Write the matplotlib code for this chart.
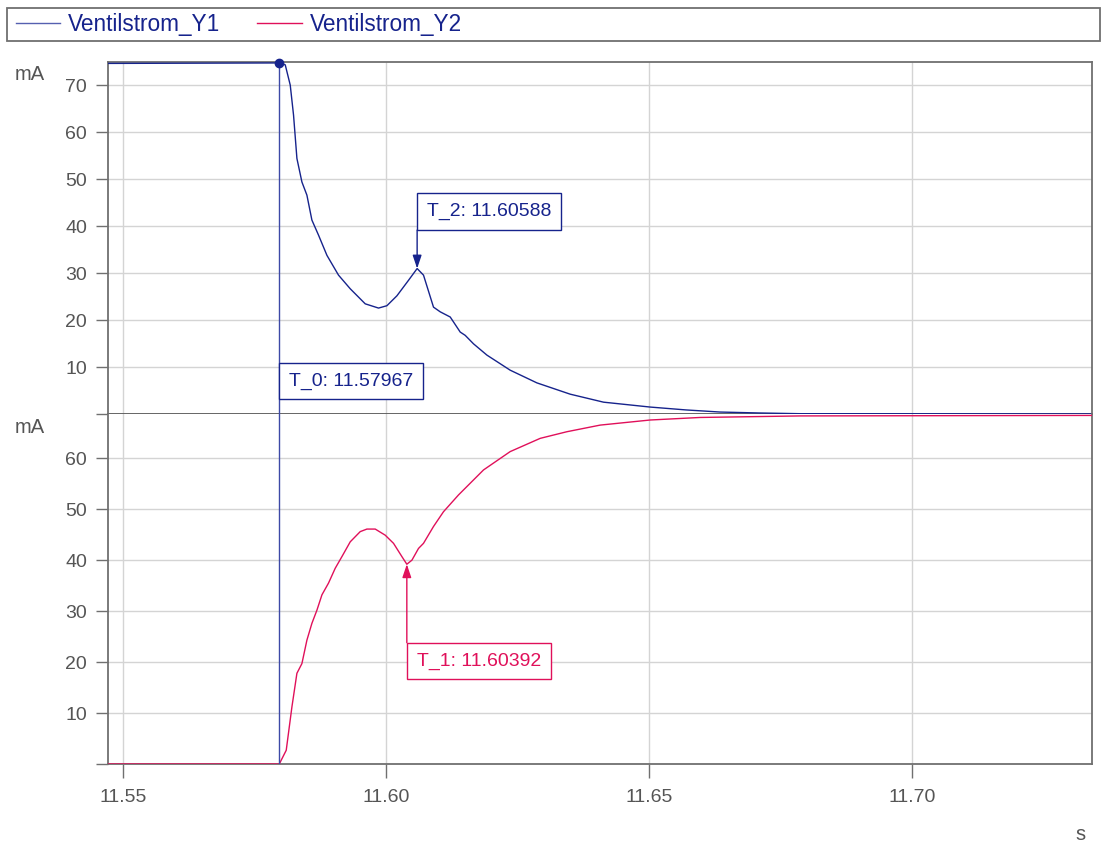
import numpy as np
import matplotlib
matplotlib.use("Agg")
import matplotlib.pyplot as plt

plt.rcParams["font.family"] = ["Liberation Sans", "DejaVu Sans"]

# ── data ───────────────────────────────────────────────────────
T0, T1, T2 = 11.57967, 11.60392, 11.60588

t_y1 = [11.5471, 11.57967, 11.58080, 11.58175, 11.58238, 11.58302, 11.58397,
        11.58492, 11.58587, 11.58713, 11.58873, 11.59093, 11.59316, 11.59601,
        11.59854, 11.60013, 11.60203, 11.60424, 11.60588, 11.60709, 11.60899,
        11.61027, 11.61217, 11.61407, 11.61502, 11.61660, 11.61915, 11.62357,
        11.62865, 11.63498, 11.64132, 11.65019, 11.65700, 11.66350, 11.67100,
        11.67870, 11.7342]
y1 = [74.6, 74.7, 74.3, 70.0, 63.6, 54.4, 49.4, 46.6, 41.3, 38.1, 33.8, 29.6,
      26.7, 23.5, 22.6, 23.1, 25.2, 28.5, 31.0, 29.6, 22.8, 21.8, 20.7, 17.5,
      16.8, 15.0, 12.6, 9.4, 6.7, 4.3, 2.6, 1.56, 0.95, 0.5, 0.3, 0.15, 0.1]

t_y2 = [11.5471, 11.57967, 11.58099, 11.58207, 11.58302, 11.58397, 11.58492,
        11.58587, 11.58683, 11.58778, 11.58903, 11.59030, 11.59158, 11.59316,
        11.59506, 11.59633, 11.59791, 11.59981, 11.60139, 11.60298, 11.60392,
        11.60489, 11.60614, 11.60709, 11.60899, 11.61089, 11.61375, 11.61850,
        11.62357, 11.62928, 11.63435, 11.64068, 11.65019, 11.65970, 11.67871,
        11.7342]
y2 = [0.0, 0.0, 2.7, 11.2, 17.8, 19.7, 24.3, 27.6, 30.2, 33.2, 35.5, 38.4,
      40.7, 43.6, 45.6, 46.1, 46.1, 44.9, 43.3, 40.7, 39.2, 40.0, 42.3, 43.3,
      46.6, 49.5, 52.8, 57.7, 61.3, 63.9, 65.2, 66.5, 67.5, 68.0, 68.3, 68.4]

x_ticks = [11.55, 11.60, 11.65, 11.70]
x_labels = ["11.55", "11.60", "11.65", "11.70"]
top_ticks = [0, 10, 20, 30, 40, 50, 60, 70]
bot_ticks = [0, 10, 20, 30, 40, 50, 60]

BLUE = "#16238c"
RED = "#e0105a"
GRAY = "#707070"
GRID = "#d4d4d4"
TXT = "#555555"
W, H = 1104, 843
PX = 72 / 100  # points per pixel


def style_axis(ax, yticks, ylim):
    ax.set_xlim(11.5471, 11.7342)
    ax.set_ylim(*ylim)
    ax.set_yticks(yticks)
    ax.set_yticklabels([""] + [str(v) for v in yticks[1:]])
    ax.set_xticks(x_ticks)
    ax.grid(True, color=GRID, lw=1.0)
    ax.set_axisbelow(True)
    ax.tick_params(axis="y", length=9, width=1.0, color=GRAY, labelcolor=TXT,
                   labelsize=14, pad=6)
    for s in ax.spines.values():
        s.set_color(GRAY)
        s.set_linewidth(1.3)


fig = plt.figure(figsize=(W / 100, H / 100), dpi=100)
ax1 = fig.add_axes([108 / W, 1 - 414.4 / H, 984 / W, 352.4 / H])
ax2 = fig.add_axes([108 / W, 1 - 764 / H, 984 / W, 349.6 / H])

style_axis(ax1, top_ticks, (0, 74.9))
style_axis(ax2, bot_ticks, (0, 68.6))
ax1.tick_params(axis="x", length=0, labelbottom=False)
ax1.spines["bottom"].set_color("#5a5a5a")
ax2.spines["top"].set_visible(False)
ax2.set_xticklabels(x_labels)
ax2.tick_params(axis="x", length=10, width=1.0, color=GRAY, labelcolor=TXT,
                labelsize=14, pad=8)

# curves
ax1.plot(t_y1, y1, color=BLUE, lw=1.0, zorder=3)
ax2.plot(t_y2, y2, color=RED, lw=1.0, zorder=3)

# cursor T_0
for ax in (ax1, ax2):
    ax.axvline(T0, color="#3d49a6", lw=1.0, zorder=4)
ax1.plot([T0], [y1[1]], "o", color=BLUE, ms=6, zorder=5, clip_on=False)

# cursor labels
PAD = 0.5
pad_px = PAD * 14 / PX
box_kw = dict(boxstyle=f"square,pad={PAD}", fc="white", lw=1.0)
arrow_kw = dict(arrowstyle="-|>,head_length=0.8,head_width=0.27", lw=1.0,
                shrinkA=0, shrinkB=0)

ax1.annotate("T_0: 11.57967", xy=(T0, 0),
             xytext=(pad_px * PX, (15.1 + pad_px) * PX),
             textcoords="offset points", ha="left", va="bottom",
             fontsize=14, color=BLUE, zorder=6, bbox=dict(box_kw, ec=BLUE))

ax1.annotate("T_2: 11.60588", xy=(T2, y1[18]),
             xytext=(pad_px * PX, (38.5 + pad_px) * PX),
             textcoords="offset points", ha="left", va="bottom",
             fontsize=14, color=BLUE, zorder=6, bbox=dict(box_kw, ec=BLUE))
ax1.annotate("", xy=(T2, y1[18]), xytext=(0, 38.5 * PX),
             textcoords="offset points", zorder=6,
             arrowprops=dict(arrow_kw, color=BLUE))

ax2.annotate("T_1: 11.60392", xy=(T1, y2[20]),
             xytext=(pad_px * PX, -(78.5 + pad_px) * PX),
             textcoords="offset points", ha="left", va="top",
             fontsize=14, color=RED, zorder=6, bbox=dict(box_kw, ec=RED))
ax2.annotate("", xy=(T1, y2[20]), xytext=(0, -78.5 * PX),
             textcoords="offset points", zorder=6,
             arrowprops=dict(arrow_kw, color=RED))

# unit labels
fig.text(15 / W, 1 - 74.5 / H, "mA", fontsize=14.5, color=TXT, va="center")
fig.text(15 / W, 1 - 427 / H, "mA", fontsize=14.5, color=TXT, va="center")
fig.text(1080 / W, 1 - 835 / H, "s", fontsize=14.5, color=TXT,
         ha="center", va="center")

# legend strip
fig.patches.append(plt.Rectangle((7 / W, 1 - 41 / H), 1093 / W, 33 / H,
                                 transform=fig.transFigure, fill=False,
                                 ec=GRAY, lw=1.3))
h1 = plt.Line2D([], [], color="#5560b0", lw=1.0)
h2 = plt.Line2D([], [], color=RED, lw=1.0)
leg = fig.legend([h1, h2], ["Ventilstrom_Y1", "Ventilstrom_Y2"],
                 loc="center left", bbox_to_anchor=(16 / W, 1 - 24 / H),
                 ncol=2, frameon=False, fontsize=16.3, handlelength=1.95,
                 handletextpad=0.35, columnspacing=1.64, borderpad=0,
                 borderaxespad=0)
for t in leg.get_texts():
    t.set_color(BLUE)

fig.savefig("out.png", dpi=100)
